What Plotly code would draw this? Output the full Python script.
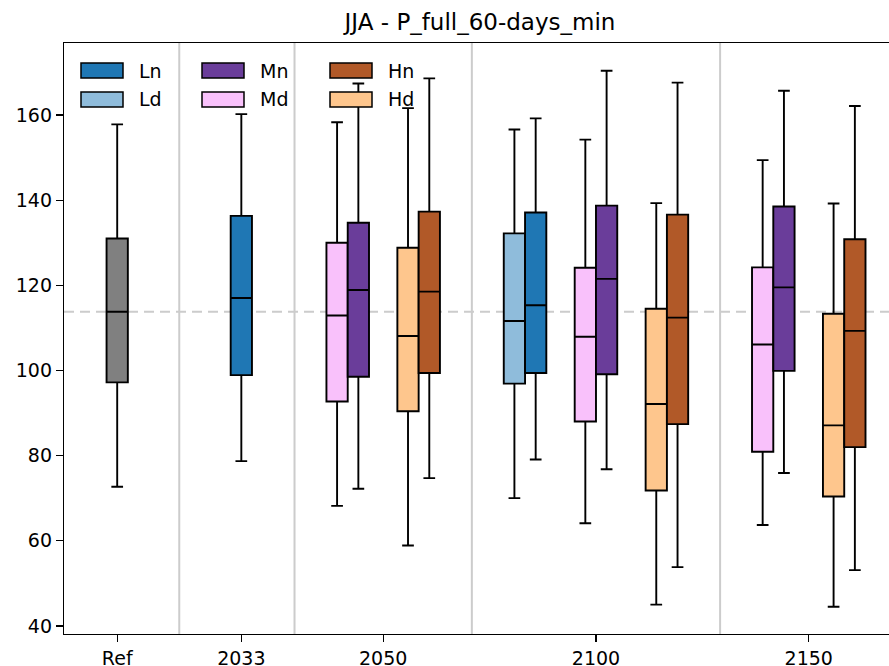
import plotly.graph_objects as go

# ---------------- data ----------------
periods = ["Ref", "2033", "2050", "2100", "2150"]
box_period = ["Ref", "2033",
              "2050", "2050", "2050", "2050",
              "2100", "2100", "2100", "2100", "2100", "2100",
              "2150", "2150", "2150", "2150"]
box_scen = ["Ref", "Ln",
            "Md", "Mn", "Hd", "Hn",
            "Ld", "Ln", "Md", "Mn", "Hd", "Hn",
            "Md", "Mn", "Hd", "Hn"]
whis_lo = [72.7, 78.7, 68.2, 72.2, 58.9, 74.7, 70.0, 79.1, 64.1, 76.8, 45.0, 53.8, 63.7, 75.9, 44.5, 53.1]
q1_vals = [97.2, 98.9, 92.7, 98.5, 90.4, 99.4, 96.9, 99.4, 88.0, 99.1, 71.8, 87.4, 80.9, 99.9, 70.4, 82.0]
med_vals = [113.8, 117.0, 112.9, 118.9, 108.1, 118.5, 111.6, 115.3, 107.9, 121.5, 92.1, 112.4, 106.1, 119.5, 87.1, 109.3]
q3_vals = [131.0, 136.3, 130.0, 134.7, 128.8, 137.3, 132.2, 137.1, 124.1, 138.7, 114.5, 136.6, 124.2, 138.5, 113.3, 130.8]
whis_hi = [157.8, 160.2, 158.3, 167.4, 161.6, 168.6, 156.6, 159.2, 154.2, 170.4, 139.3, 167.6, 149.4, 165.7, 139.2, 162.1]
legend_order = ["Ln", "Ld", "Mn", "Md", "Hn", "Hd"]
y_ticks = [40, 60, 80, 100, 120, 140, 160]
title_text = "JJA - P_full_60-days_min"

# ---------------- styles ----------------
colors = {"Ref": "#808080", "Ln": "#1f77b4", "Ld": "#8fbcdb",
          "Mn": "#6a3d9a", "Md": "#f9c1fb", "Hn": "#b15928", "Hd": "#fec68d"}
FONT = "DejaVu Sans"
W, H = 889, 666
# plot area in window pixels
L_PX, R_PX, T_PX, B_PX = 64, 889, 43, 634
BOX_W = 0.3

# ---------------- layout of slots ----------------
slot_x = {}
slot_x[("Ref", "")] = 0.0
cursor = 1.75
slot_x[("2033", "")] = cursor
for p in periods[2:]:
    letters = []
    for bp, sc in zip(box_period, box_scen):
        if bp == p and sc[0] not in letters:
            letters.append(sc[0])
    for i, letter in enumerate(letters):
        cursor += 1.5 if i == 0 else 1.0
        slot_x[(p, letter)] = cursor

def box_x(p, sc):
    if p in ("Ref", "2033"):
        return slot_x[(p, "")]
    base = slot_x[(p, sc[0])]
    return base - BOX_W / 2 if sc[1] == "d" else base + BOX_W / 2

positions = [box_x(p, s) for p, s in zip(box_period, box_scen)]

period_slots = {p: [v for (pp, _), v in slot_x.items() if pp == p] for p in periods}
tick_x = [sum(period_slots[p]) / len(period_slots[p]) for p in periods]
separators = [(max(period_slots[periods[i]]) + min(period_slots[periods[i + 1]])) / 2
              for i in range(len(periods) - 1)]

x_left = -0.75
px_per_unit = 70.93
x_right = x_left + (R_PX - L_PX) / px_per_unit
y_range = [38.1, 176.9]

fig = go.Figure()
for i in range(len(positions)):
    sc = box_scen[i]
    fig.add_trace(go.Box(
        x=[positions[i]], q1=[q1_vals[i]], median=[med_vals[i]], q3=[q3_vals[i]],
        lowerfence=[whis_lo[i]], upperfence=[whis_hi[i]],
        width=BOX_W, whiskerwidth=0.55,
        fillcolor=colors[sc], line=dict(color="black", width=1.9),
        boxpoints=False, showlegend=False, hoverinfo="skip", name=sc,
    ))

shapes = []
for s in separators:
    shapes.append(dict(type="line", xref="x", yref="paper", x0=s, x1=s, y0=0, y1=1,
                       line=dict(color="#cccccc", width=2), layer="below"))
shapes.append(dict(type="line", xref="paper", yref="y", x0=0, x1=1,
                   y0=med_vals[0], y1=med_vals[0],
                   line=dict(color="#cccccc", width=2, dash="10px,6px"), layer="below"))

# custom legend (matplotlib-like patches)
def px_x(px):
    return (px - L_PX) / (R_PX - L_PX)

def px_y(py):
    return (B_PX - py) / (B_PX - T_PX)

annotations = []
col_x = [81, 202, 330]
row_y = [63, 92]
for k, name in enumerate(legend_order):
    c, r = k // 2, k % 2
    x0, y0 = col_x[c], row_y[r]
    shapes.append(dict(type="rect", xref="paper", yref="paper",
                       x0=px_x(x0), x1=px_x(x0 + 42), y0=px_y(y0 + 15), y1=px_y(y0),
                       fillcolor=colors[name], line=dict(color="black", width=1.5)))
    annotations.append(dict(text=name, xref="paper", yref="paper",
                            x=px_x(x0 + 56), y=px_y(y0 + 7.5), xanchor="left", yanchor="middle",
                            showarrow=False, font=dict(family=FONT, size=19, color="black")))

fig.update_layout(
    width=W, height=H,
    margin=dict(l=L_PX, r=W - R_PX, t=T_PX, b=H - B_PX, autoexpand=False),
    paper_bgcolor="white", plot_bgcolor="white",
    boxmode="overlay",
    showlegend=False,
    title=dict(text=title_text, xref="paper", x=px_x(480), xanchor="center",
               yref="container", y=1 - 22 / H, yanchor="middle",
               font=dict(family=FONT, size=23, color="black")),
    font=dict(family=FONT, size=19, color="black"),
    shapes=shapes, annotations=annotations,
    xaxis=dict(range=[x_left, x_right], tickmode="array", tickvals=tick_x, ticktext=periods,
               showline=True, linecolor="black", linewidth=1.2, mirror=True,
               ticks="outside", ticklen=7, tickwidth=1.2, tickcolor="black",
               showgrid=False, zeroline=False, automargin=False,
               tickfont=dict(family=FONT, size=19, color="black")),
    yaxis=dict(range=y_range, tickmode="array", tickvals=y_ticks,
               showline=True, linecolor="black", linewidth=1.2, mirror=False,
               ticks="outside", ticklen=7, tickwidth=1.2, tickcolor="black",
               showgrid=False, zeroline=False, automargin=False,
               tickfont=dict(family=FONT, size=19, color="black")),
)

fig.write_html("out.html",
               config={"displayModeBar": False, "staticPlot": True},
               post_script="document.body.style.margin='0';document.body.style.overflow='hidden';")
